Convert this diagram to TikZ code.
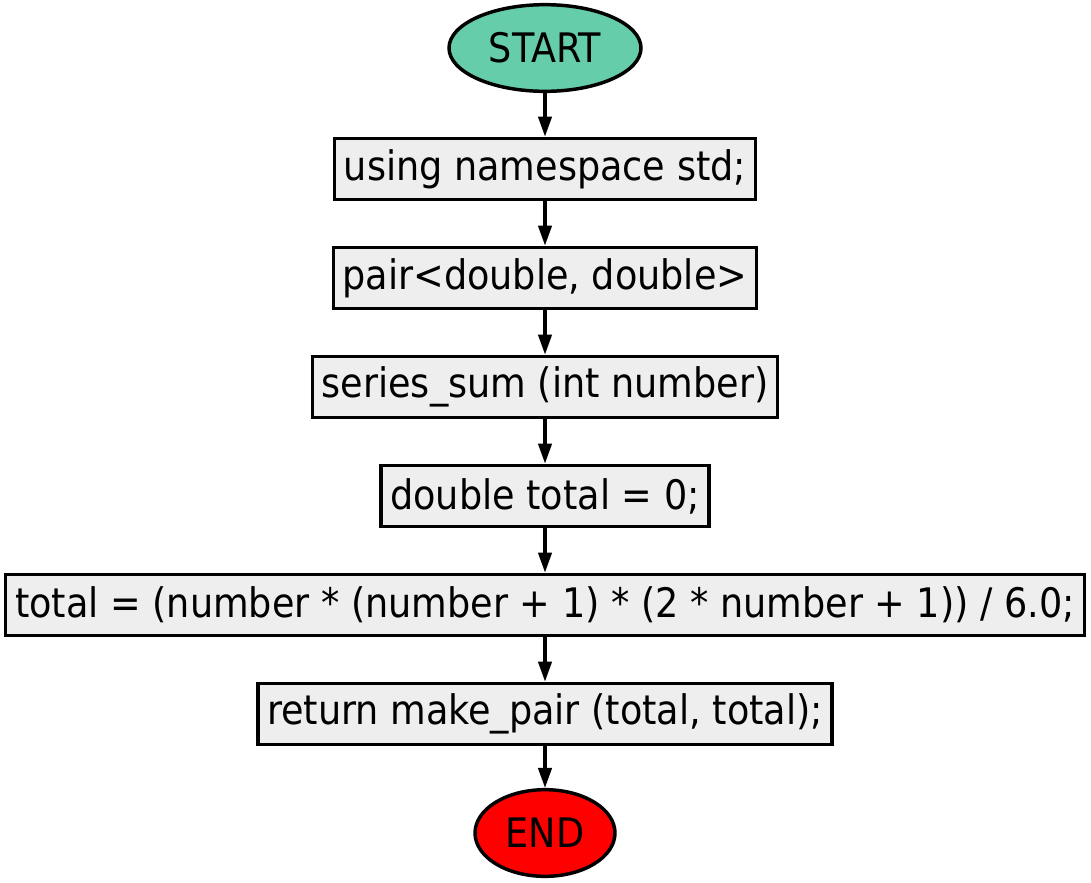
\documentclass[tikz,border=0pt]{standalone}
\usepackage{fontspec}
\setmainfont{DejaVu Sans Condensed}
\usepackage{tikz}
\usetikzlibrary{arrows.meta,shapes,positioning,calc}
\usepackage{xcolor}
\definecolor{startc}{RGB}{102,205,170}
\definecolor{endc}{RGB}{255,0,0}
\definecolor{boxc}{RGB}{238,238,238}

\begin{document}
\begin{tikzpicture}[
    x=0.75pt, y=-0.75pt,
    term/.style={ellipse, draw=black, line width=2.6pt, inner sep=0pt,
                 font=\fontsize{30.5pt}{34pt}\selectfont},
    stepbox/.style={rectangle, draw=black, fill=boxc, line width=2.6pt,
                    minimum height=46pt, inner xsep=7pt,
                    font=\fontsize{30.5pt}{34pt}\selectfont},
    flow/.style={-{Triangle[length=15pt,width=10pt]}, line width=2.4pt}
  ]
    \useasboundingbox (0,0) rectangle (1091,882);
    \node[term, fill=startc, minimum width=144pt, minimum height=65pt] (start) at (545, 48) {START};
    \node[stepbox] (s1) at (545, 169) {using namespace std;};
    \node[stepbox] (s2) at (545, 278) {pair<double, double>};
    \node[stepbox] (s3) at (545, 387) {series\_sum (int number)};
    \node[stepbox] (s4) at (545, 496) {double total = 0;};
    \node[stepbox] (s5) at (545, 605) {total = (number * (number + 1) * (2 * number + 1)) / 6.0;};
    \node[stepbox] (s6) at (545, 714) {return make\_pair (total, total);};
    \node[term, fill=endc, minimum width=105pt, minimum height=65pt] (end) at (545, 833) {END};

    \draw[flow] (start) -- (s1);
    \draw[flow] (s1) -- (s2);
    \draw[flow] (s2) -- (s3);
    \draw[flow] (s3) -- (s4);
    \draw[flow] (s4) -- (s5);
    \draw[flow] (s5) -- (s6);
    \draw[flow] (s6) -- (end);
\end{tikzpicture}
\end{document}
